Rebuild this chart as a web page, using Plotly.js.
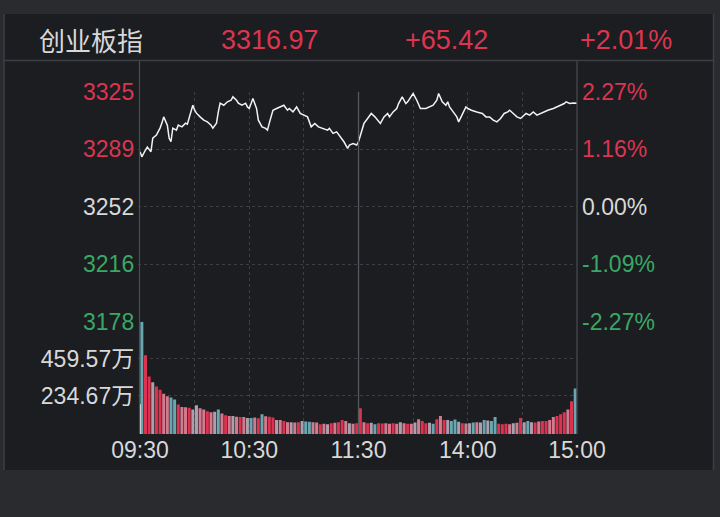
<!DOCTYPE html>
<html><head><meta charset="utf-8">
<script src="https://cdn.plot.ly/plotly-3.0.1.min.js"></script>
<style>html,body{margin:0;padding:0;background:#1b1d21;overflow:hidden}#chart{width:720px;height:517px}</style>
</head><body><div id="chart"></div>
<script>
// ---- header values ----
const indexName = '创业板指';
const lastPriceText = '3316.97';
const changeText = '+65.42';
const changePctText = '+2.01%';

// ---- price axis ----
const priceTickVals = [3325.36, 3288.45, 3251.55, 3214.64, 3177.74];
const priceTickLabels = ['3325', '3289', '3252', '3216', '3178'];
const pctTickLabels = ['2.27%', '1.16%', '0.00%', '-1.09%', '-2.27%'];
const tickTone = ['up', 'up', 'flat', 'down', 'down'];

// ---- time axis (minutes after 09:30, lunch break collapsed) ----
const timeTickVals = [0, 60, 120, 180, 240];
const timeTickLabels = ['09:30', '10:30', '11:30', '14:00', '15:00'];
const halfHourGrid = [30, 60, 90, 150, 180, 210];

// ---- intraday price line ----
const priceMin = [0,1,3,4,6,7,9,10,11,12,13,15,16,17,18,20,21,23,25,26,28,29,30,31,33,35,37,39,40,42,43,44,46,48,50,51,53,54,56,58,59,60,62,64,65,67,69,70,71,73,75,77,79,81,82,84,86,88,90,92,94,96,98,100,103,104,106,108,110,112,114,115,117,119,120,
122,123,125,127,129,132,134,136,137,139,141,142,144,146,147,149,150,152,154,157,159,161,163,164,166,168,169,170,172,174,175,177,179,180,182,185,188,190,192,194,196,198,200,202,203,205,207,209,211,212,214,216,218,220,222,224,227,229,231,233,234,236,238,240];
const priceVal = [3286.9,3283.6,3288.0,3289.9,3286.9,3295.6,3297.6,3299.7,3302.1,3305.3,3309.3,3304.0,3295.6,3293.3,3302.1,3300.8,3304.0,3302.9,3305.3,3304.6,3312.5,3316.8,3313.6,3311.7,3309.3,3307.2,3306.1,3304.0,3302.1,3305.3,3312.5,3318.1,3316.8,3319.0,3320.0,3322.2,3320.0,3318.1,3316.8,3318.1,3315.7,3314.7,3321.1,3314.7,3307.2,3302.9,3301.9,3300.8,3305.3,3313.6,3314.7,3315.7,3316.8,3313.6,3314.7,3312.5,3315.7,3311.5,3310.4,3309.3,3302.9,3305.1,3302.9,3301.9,3300.8,3301.9,3298.7,3299.7,3296.5,3293.3,3289.0,3291.2,3292.2,3291.2,3293.3,
3300.8,3305.1,3308.3,3311.5,3309.3,3305.1,3309.3,3311.5,3309.3,3312.5,3314.7,3317.9,3322.2,3317.9,3319.0,3322.2,3324.3,3320.0,3314.7,3314.7,3315.7,3316.8,3320.0,3324.3,3319.0,3316.8,3319.0,3315.7,3312.5,3309.3,3306.1,3311.5,3315.7,3314.7,3313.6,3312.5,3311.5,3309.3,3309.3,3307.2,3306.1,3308.3,3311.5,3312.5,3313.6,3311.5,3309.3,3308.3,3310.4,3311.5,3310.4,3312.5,3310.4,3311.5,3312.5,3313.6,3314.7,3315.7,3316.8,3317.9,3319.0,3317.9,3318.3,3318.0];

// ---- volume (万), 2-minute slots ----
const auctionVolume = 181;
const volBars = [684,480,350,315,290,270,245,230,223,211,
180,165,163,160,150,175,157,150,139,133,
135,150,125,115,110,109,105,104,103,98,
97,100,96,121,108,105,100,85,85,80,
72,72,70,72,79,76,75,72,70,60,
62,60,66,68,72,85,80,66,62,66,
157,72,66,68,60,66,64,66,62,66,
63,72,66,63,62,70,90,80,66,68,
62,90,109,85,86,80,88,75,66,64,
66,70,72,70,85,82,80,103,62,60,
62,60,66,68,97,72,80,72,70,76,
79,80,85,103,110,121,133,150,199,278];
const volTone = ('trrgrrpptt'+'rpprggpprp'+'gtprpgprpg'+'tprtprrgpr'+'pgprgttppr'+
                 'pgrprrpgpr'+'rprgtrrppr'+'pgprpgprrg'+'trprgttgrp'+'gtpgtgttrr'+
                 'rpgprgtgrp'+'rrpprrrprt').split('');
const volTickVals = [234.67, 459.57, 684.47];
const volTickLabels = ['234.67万', '459.57万', ''];

// ---- styling ----
const RED = '#dc3550', GREEN = '#3aa765', WHITE = '#d8d8d8';
const toneColor = {up: RED, flat: WHITE, down: GREEN};
const barColor = {r: '#dd3350', p: '#d47a8e', g: '#ad9fae', t: '#68a6b0', w: '#e6e6e6'};
const GRID = '#3c3e44';
const FONT = 'Liberation Sans, Arial, sans-serif';
const CJK = 'Noto Sans CJK SC, sans-serif';

const barX = volBars.map((_, i) => 2 * i + 1);
const W = 720, H = 517;
const px = v => v / W, py = v => 1 - v / H;

const traces = [
  {type: 'scatter', mode: 'lines', x: priceMin, y: priceVal, xaxis: 'x', yaxis: 'y',
   line: {color: '#f2f2f2', width: 1.5}, hoverinfo: 'skip'},
  // same series referenced on the right (percent) axis so that axis gets drawn
  {type: 'scatter', mode: 'lines', x: priceMin, y: priceVal, xaxis: 'x', yaxis: 'y2',
   line: {color: 'rgba(0,0,0,0)', width: 0}, hoverinfo: 'skip'},
  {type: 'bar', x: barX, y: volBars, width: 1.65, xaxis: 'x', yaxis: 'y3',
   marker: {color: volTone.map(c => barColor[c]), line: {width: 0}}, hoverinfo: 'skip'},
  {type: 'bar', x: [0.1], y: [auctionVolume], width: 0.8, xaxis: 'x', yaxis: 'y3',
   marker: {color: barColor.w, line: {width: 0}}, hoverinfo: 'skip'}
];

const layout = {
  width: W, height: H, margin: {l: 0, r: 0, t: 0, b: 0},
  paper_bgcolor: '#1b1d21', plot_bgcolor: 'rgba(0,0,0,0)',
  showlegend: false, barmode: 'overlay',
  xaxis: {domain: [px(138.2), px(577)], range: [-1, 240], anchor: 'y3',
    tickvals: timeTickVals, ticktext: timeTickLabels, ticks: '', ticklabelstandoff: 0,
    tickfont: {family: FONT, size: 23, color: WHITE}, showgrid: false, zeroline: false, showline: false,
    minor: {tickvals: halfHourGrid, showgrid: true, gridcolor: GRID, griddash: 'dot', gridwidth: 1, ticks: ''}},
  yaxis: {domain: [py(321.7), py(91.7)], range: [3177.6, 3325.5], anchor: 'x',
    tickvals: priceTickVals,
    ticktext: priceTickLabels.map((t, i) => `<span style="color:${toneColor[tickTone[i]]}">${t}</span>`),
    ticks: '', ticklabelstandoff: 3, tickfont: {family: FONT, size: 23, color: WHITE},
    showgrid: true, gridcolor: GRID, griddash: 'dot', zeroline: false, showline: false},
  yaxis2: {overlaying: 'y', side: 'right', anchor: 'x', range: [3177.6, 3325.5],
    tickvals: priceTickVals,
    ticktext: pctTickLabels.map((t, i) => `<span style="color:${toneColor[tickTone[i]]}">${t}</span>`),
    ticks: '', ticklabelstandoff: 4, tickfont: {family: FONT, size: 23, color: WHITE},
    showgrid: false, zeroline: false, showline: false},
  yaxis3: {domain: [py(434), py(321.7)], range: [0, 684.5], anchor: 'x',
    tickvals: volTickVals, ticktext: volTickLabels,
    ticks: '', ticklabelstandoff: 3, tickfont: {family: FONT + ',' + CJK, size: 23, color: WHITE},
    showgrid: true, gridcolor: GRID, griddash: 'dot', zeroline: false, showline: false},
  shapes: [
    {type: 'rect', xref: 'paper', yref: 'paper', x0: 0, x1: 1, y0: py(14), y1: 1, fillcolor: '#2a2b2f', line: {width: 0}, layer: 'below'},
    {type: 'rect', xref: 'paper', yref: 'paper', x0: 0, x1: 1, y0: 0, y1: py(470), fillcolor: '#2a2b2f', line: {width: 0}, layer: 'below'},
    {type: 'rect', xref: 'paper', yref: 'paper', x0: 0, x1: px(3.5), y0: 0, y1: 1, fillcolor: '#2a2b2f', line: {width: 0}, layer: 'below'},
    {type: 'rect', xref: 'paper', yref: 'paper', x0: px(714), x1: 1, y0: 0, y1: 1, fillcolor: '#2a2b2f', line: {width: 0}, layer: 'below'},
    {type: 'line', xref: 'paper', yref: 'paper', x0: px(4), x1: px(4), y0: py(470), y1: py(14), line: {color: '#3d3f44', width: 1.5}},
    {type: 'line', xref: 'paper', yref: 'paper', x0: px(713.5), x1: px(713.5), y0: py(470), y1: py(14), line: {color: '#3d3f44', width: 1.5}},
    {type: 'line', xref: 'paper', yref: 'paper', x0: px(4), x1: px(713.5), y0: py(60.5), y1: py(60.5), line: {color: '#3d3f44', width: 1.5}},
    {type: 'line', xref: 'paper', yref: 'paper', x0: px(139.5), x1: px(139.5), y0: py(434), y1: py(61), line: {color: '#4a4c52', width: 1.2}},
    {type: 'line', xref: 'paper', yref: 'paper', x0: px(577), x1: px(577), y0: py(434), y1: py(61), line: {color: '#4a4c52', width: 1.2}},
    {type: 'line', xref: 'x', yref: 'paper', x0: 120, x1: 120, y0: py(434), y1: py(91.7), line: {color: '#56585e', width: 1.3}}
  ],
  annotations: [
    {xref: 'paper', yref: 'paper', x: px(37), y: py(40), xanchor: 'left', yanchor: 'middle', showarrow: false,
     text: indexName, font: {family: CJK, size: 26, color: WHITE}},
    {xref: 'paper', yref: 'paper', x: px(219), y: py(40), xanchor: 'left', yanchor: 'middle', showarrow: false,
     text: lastPriceText, font: {family: FONT, size: 27, color: RED}},
    {xref: 'paper', yref: 'paper', x: px(403), y: py(40), xanchor: 'left', yanchor: 'middle', showarrow: false,
     text: changeText, font: {family: FONT, size: 27, color: RED}},
    {xref: 'paper', yref: 'paper', x: px(674), y: py(40), xanchor: 'right', yanchor: 'middle', showarrow: false,
     text: changePctText, font: {family: FONT, size: 27, color: RED}}
  ]
};

Plotly.newPlot('chart', traces, layout, {staticPlot: true, displayModeBar: false});
</script></body></html>
